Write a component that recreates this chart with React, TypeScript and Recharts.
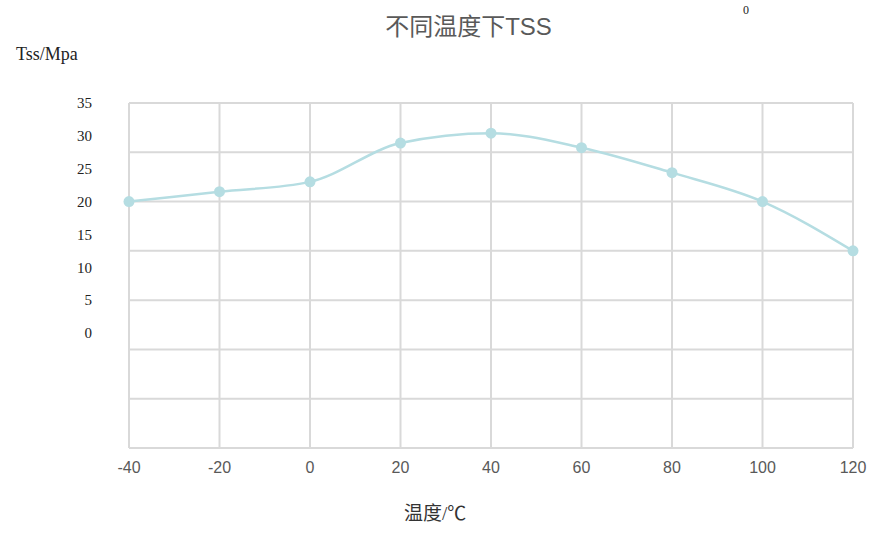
import { LineChart, Line, XAxis, YAxis, CartesianGrid, ReferenceLine } from 'recharts';

const temps = [-40, -20, 0, 20, 40, 60, 80, 100, 120];
const tss = [20, 21.5, 23, 28.9, 30.4, 28.2, 24.4, 20, 12.5];
const xTicks = [-40, -20, 0, 20, 40, 60, 80, 100, 120];
const yLabelTicks = [0, 5, 10, 15, 20, 25, 30, 35];
const gridTicks = [-10, -2.5, 5, 12.5, 20, 27.5, 35];

const data = temps.map((t, i) => ({ temp: t, tss: tss[i] }));

const LINE = '#b5dde2';
const GRID = '#d9d9d9';

export default function App() {
  return (
    <div style={{ position: 'absolute', left: 0, top: 0, width: 887, height: 547, background: '#fff' }}>
      <div
        style={{
          position: 'absolute', left: 0, width: 887, top: 7, textAlign: 'center', paddingLeft: 50,
          boxSizing: 'border-box',
          fontFamily: 'Arial, "Liberation Sans", "Noto Sans CJK SC", sans-serif', fontSize: 24, color: '#595959',
        }}
      >
        不同温度下TSS
      </div>
      <div style={{ position: 'absolute', left: 743, top: 3, fontFamily: '"Liberation Serif", serif', fontSize: 12, color: '#222' }}>0</div>
      <div style={{ position: 'absolute', left: 16, top: 44, fontFamily: '"Liberation Serif", serif', fontSize: 18, color: '#222' }}>
        Tss/Mpa
      </div>
      <div
        style={{
          position: 'absolute', left: 404, top: 498,
          fontFamily: '"Liberation Serif", "Noto Sans CJK SC", serif', fontSize: 19, color: '#333',
        }}
      >
        温度/℃
      </div>
      <LineChart width={887} height={547} data={data} margin={{ top: 103, right: 34, bottom: 0, left: 0 }}>
        <CartesianGrid stroke={GRID} strokeWidth={2} vertical horizontal={false} />
        {/* horizontal grid has its own 7.5 step, separate from the label ticks */}
        {gridTicks.map((v) => (
          <ReferenceLine key={v} y={v} stroke={GRID} strokeWidth={2} />
        ))}
        <XAxis
          dataKey="temp"
          type="number"
          domain={[-40, 120]}
          ticks={xTicks}
          axisLine={{ stroke: GRID, strokeWidth: 2 }}
          tickLine={false}
          tickMargin={8}
          height={99}
          tick={{ fontSize: 16, fill: '#595959', fontFamily: 'Arial, "Liberation Sans", sans-serif' }}
        />
        <YAxis
          type="number"
          domain={[-17.5, 35]}
          ticks={yLabelTicks}
          axisLine={false}
          tickLine={false}
          tickMargin={31}
          width={129}
          tick={{ fontSize: 15, fill: '#222', fontFamily: '"Liberation Serif", serif' }}
        />
        <Line
          type="monotone"
          dataKey="tss"
          stroke={LINE}
          strokeWidth={2.5}
          dot={{ r: 5.5, fill: LINE, stroke: LINE, strokeWidth: 0 }}
          isAnimationActive={false}
        />
      </LineChart>
    </div>
  );
}
